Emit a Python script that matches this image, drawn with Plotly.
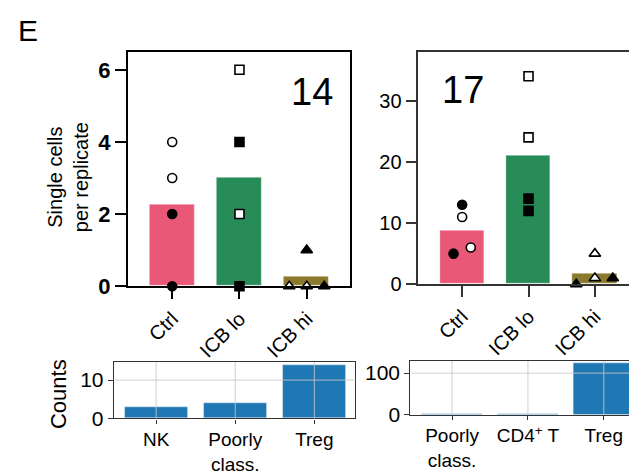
import plotly.graph_objects as go

W, H = 637, 476

# ---------------- data ----------------
groups = ["Ctrl", "ICB lo", "ICB hi"]
bar_colors = ["#EA5877", "#288C58", "#8B7A2E"]
group_symbols = ["circle", "square", "triangle-up"]

# panel "14": single cells per replicate
p14_values = [[4, 3, 2, 0], [6, 4, 2, 0], [0, 0, 1, 0]]
p14_filled = [[False, False, True, True], [False, True, False, True], [False, False, True, True]]
p14_jitter = [[0, 0, 0, 0], [0, 0, 0, 0], [-0.26, 0, 0, 0.26]]

# panel "17": single cells per replicate
p17_values = [[13, 11, 5, 6], [34, 24, 14, 12], [5, 1, 0, 1]]
p17_filled = [[True, False, True, False], [False, False, True, True], [False, False, True, True]]
p17_jitter = [[0, 0, -0.13, 0.13], [0, 0, 0, 0], [0, 0, -0.28, 0.27]]

# counts per cell type
c14_types = ["NK", "Poorly<br>class.", "Treg"]
c14_counts = [3, 4, 14]
c17_types = ["Poorly<br>class.", "CD4<sup>+</sup> T", "Treg"]
c17_counts = [1, 1, 123]

FONT = "Liberation Sans, Arial, sans-serif"


def dx(p):
    return p / W


def dy(p):
    return 1 - p / H


fig = go.Figure()


def add_replicate_panel(values, filled, jitter, xa, ya):
    means = [sum(v) / len(v) for v in values]
    fig.add_trace(go.Bar(
        x=list(range(len(groups))), y=means, width=0.67,
        marker=dict(color=bar_colors, line=dict(color="rgba(255,255,255,0.35)", width=1)),
        xaxis=xa, yaxis=ya, showlegend=False, hoverinfo="skip"))
    for gi, vals in enumerate(values):
        for vi, v in enumerate(vals):
            f = filled[gi][vi]
            fig.add_trace(go.Scatter(
                x=[gi + jitter[gi][vi]], y=[v], mode="markers",
                marker=dict(symbol=group_symbols[gi], size=9 if gi != 2 else 10,
                            color="black" if f else "white",
                            line=dict(color="black", width=1.6)),
                xaxis=xa, yaxis=ya, showlegend=False, cliponaxis=False))


add_replicate_panel(p14_values, p14_filled, p14_jitter, "x", "y")
add_replicate_panel(p17_values, p17_filled, p17_jitter, "x2", "y2")

fig.add_trace(go.Bar(x=list(range(3)), y=c14_counts, width=0.8, marker_color="#1F77B4",
                     xaxis="x3", yaxis="y3", showlegend=False))
fig.add_trace(go.Bar(x=list(range(3)), y=c17_counts, width=0.8, marker_color="#1F77B4",
                     xaxis="x4", yaxis="y4", showlegend=False))

top_x_common = dict(tickmode="array", tickvals=list(range(3)), ticktext=groups,
                    tickangle=-45, ticks="outside", ticklen=11, showgrid=False,
                    zeroline=False, showline=True, mirror=True,
                    tickfont=dict(family=FONT, size=20, color="black"))

bottom_x_common = dict(tickmode="array", tickvals=list(range(3)), ticks="outside", ticklen=4,
                       tickcolor="#333333", showline=True, mirror=True, linecolor="#333333",
                       linewidth=1.2, showgrid=False, zeroline=False,
                       tickfont=dict(family=FONT, size=19, color="black"))
bottom_y_common = dict(ticks="outside", ticklen=5, tickcolor="#333333",
                       showline=True, mirror=True, linecolor="#333333", linewidth=1.2,
                       showgrid=False, zeroline=False,
                       tickfont=dict(family=FONT, size=21, color="black"))

fig.update_layout(
    width=W, height=H, margin=dict(l=0, r=0, t=0, b=0),
    paper_bgcolor="white", plot_bgcolor="white",
    font=dict(family=FONT, color="black"),
    bargap=0,
    xaxis=dict(domain=[dx(120), dx(343)], range=[-0.66, 2.65], anchor="y",
               linecolor="black", linewidth=2, tickwidth=2, tickcolor="black", **top_x_common),
    yaxis=dict(domain=[dy(286), dy(45)], range=[0, 6.5], anchor="x",
               tickvals=[0, 2, 4, 6], ticks="outside", ticklen=11, tickwidth=2,
               tickcolor="black", showline=True, mirror=True, linecolor="black", linewidth=2,
               showgrid=False, zeroline=False,
               tickfont=dict(family=FONT, size=22, color="black", weight="bold")),
    xaxis2=dict(domain=[dx(411), dx(633)], range=[-0.66, 2.68], anchor="y2",
                linecolor="#333333", linewidth=1.5, tickwidth=1.5, tickcolor="#333333",
                **top_x_common),
    yaxis2=dict(domain=[dy(284), dy(45)], range=[0, 38], anchor="x2",
                tickvals=[0, 10, 20, 30], ticks="outside", ticklen=11, tickwidth=1.5,
                tickcolor="#333333", showline=True, mirror=True, linecolor="#333333",
                linewidth=1.5, showgrid=False, zeroline=False,
                tickfont=dict(family=FONT, size=20, color="black")),
    xaxis3=dict(domain=[dx(106), dx(348)], range=[-0.535, 2.52], anchor="y3",
                ticktext=c14_types, **bottom_x_common),
    yaxis3=dict(domain=[dy(422), dy(364)], range=[0, 14.7], anchor="x3",
                tickvals=[0, 10], **bottom_y_common),
    xaxis4=dict(domain=[dx(403), 1.0], range=[-0.55, 2.53], anchor="y4",
                ticktext=c17_types, **bottom_x_common),
    yaxis4=dict(domain=[dy(418), dy(363)], range=[0, 129], anchor="x4",
                tickvals=[0, 100], **bottom_y_common),
)

# grid lines drawn above the bars (as in the reference)
shapes = []
for xa, ya, yticks in [("x3", "y3", [10]), ("x4", "y4", [100])]:
    for i in range(3):
        shapes.append(dict(type="line", xref=xa, yref=ya + " domain", x0=i, x1=i, y0=0, y1=1,
                           line=dict(color="rgba(200,200,200,0.85)", width=1), layer="above"))
    for t in yticks:
        shapes.append(dict(type="line", xref=xa + " domain", yref=ya, x0=0, x1=1, y0=t, y1=t,
                           line=dict(color="rgba(200,200,200,0.85)", width=1), layer="above"))
fig.update_layout(shapes=shapes)

annotations = [
    dict(text="E", x=dx(8), y=dy(23), xref="paper", yref="paper", xanchor="left",
         yanchor="middle", showarrow=False, font=dict(size=30, family=FONT)),
    dict(text="14", x=dx(304), y=dy(86), xref="paper", yref="paper", xanchor="center",
         yanchor="middle", showarrow=False, font=dict(size=38, family=FONT)),
    dict(text="17", x=dx(456), y=dy(84), xref="paper", yref="paper", xanchor="center",
         yanchor="middle", showarrow=False, font=dict(size=38, family=FONT)),
    dict(text="Single cells<br>per replicate", x=dx(60), y=dy(174), xref="paper", yref="paper",
         xanchor="center", yanchor="middle", textangle=-90, showarrow=False,
         font=dict(size=20, family=FONT)),
    dict(text="Counts", x=dx(50), y=dy(397), xref="paper", yref="paper",
         xanchor="center", yanchor="middle", textangle=-90, showarrow=False,
         font=dict(size=22, family=FONT)),
]
fig.update_layout(annotations=annotations)

fig.write_html("out.html")
